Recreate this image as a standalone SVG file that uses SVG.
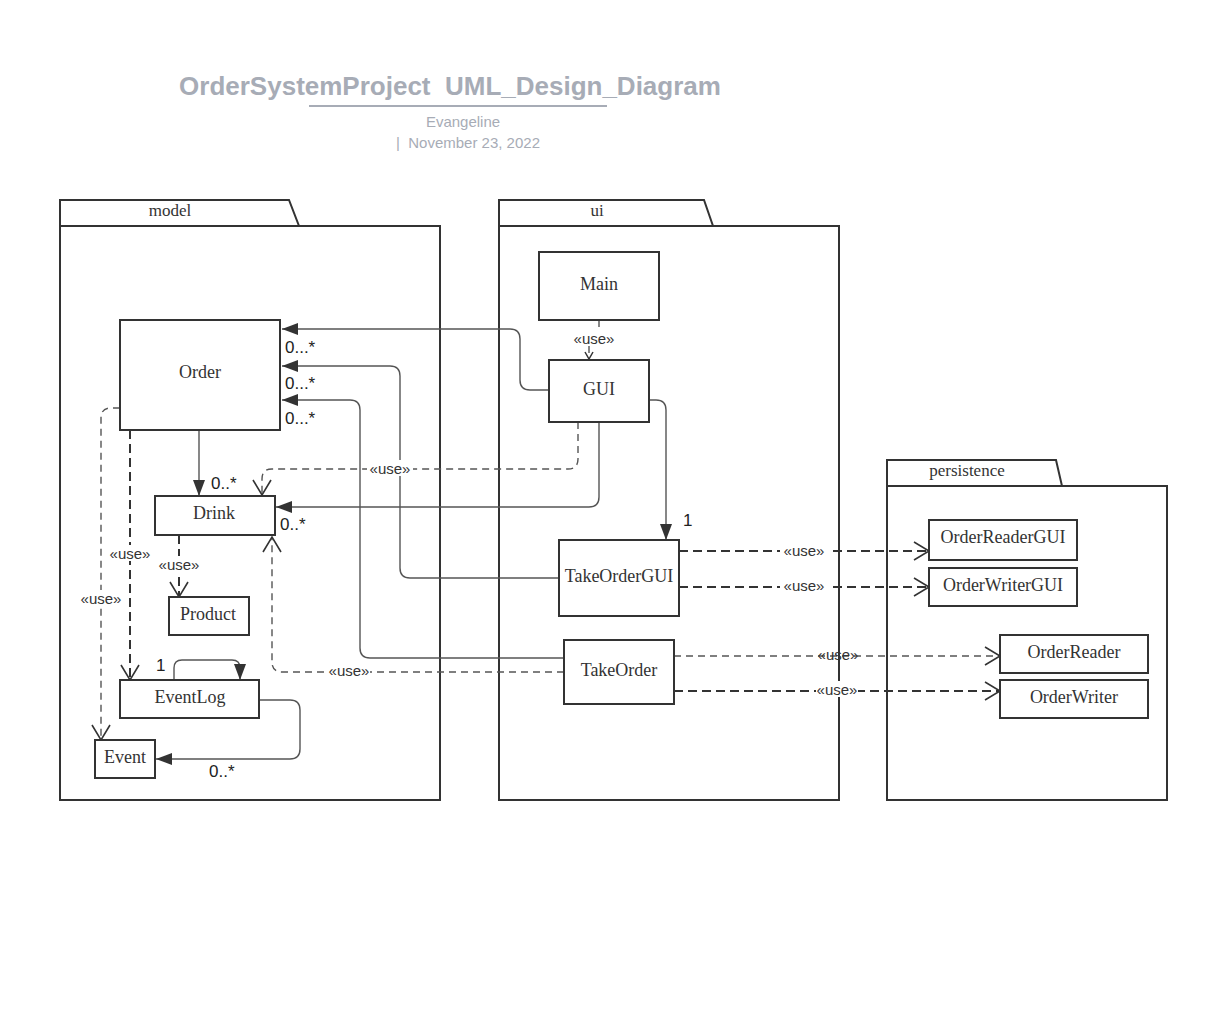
<svg xmlns="http://www.w3.org/2000/svg" width="1207" height="1031" viewBox="0 0 1207 1031">
<style>
.pkg{fill:#fff;stroke:#333;stroke-width:2}
.node{fill:#fff;stroke:#333;stroke-width:2}
.nt{font-family:"Liberation Serif",serif;font-size:18px;fill:#333;text-anchor:middle;dominant-baseline:central}
.pt{font-family:"Liberation Serif",serif;font-size:17px;fill:#333;text-anchor:middle}
.assoc{fill:none;stroke:#555;stroke-width:1.4}
.dep{fill:none;stroke:#555;stroke-width:1.4;stroke-dasharray:7,5}
.depb{fill:none;stroke:#333;stroke-width:2;stroke-dasharray:9,5}
.lbl{font-family:"Liberation Sans",Arial,sans-serif;font-size:17px;fill:#222}
.use{font-family:"Liberation Sans",Arial,sans-serif;font-size:15px;fill:#333;text-anchor:middle;dominant-baseline:central}
.ubg{fill:#fff}
</style>
<defs>
<marker id="fill" markerUnits="userSpaceOnUse" markerWidth="18" markerHeight="14" refX="16" refY="7" orient="auto">
<path d="M0,1 L16,7 L0,13 Z" fill="#333"/>
</marker>
<marker id="open" markerUnits="userSpaceOnUse" markerWidth="18" markerHeight="22" refX="16" refY="11" orient="auto">
<path d="M1,2 L16,11 L1,20" fill="none" stroke="#333" stroke-width="1.6"/>
</marker>
<marker id="opens" markerUnits="userSpaceOnUse" markerWidth="10" markerHeight="12" refX="8" refY="6" orient="auto">
<path d="M1,2 L8,6 L1,10" fill="none" stroke="#333" stroke-width="1.5"/>
</marker>
</defs>
<rect width="1207" height="1031" fill="#fff"/>
<g id="title">
<text x="450" y="95" font-family="Liberation Sans,Arial,sans-serif" font-size="26" font-weight="bold" fill="#a7acb6" text-anchor="middle">OrderSystemProject&#160; UML_Design_Diagram</text>
<line x1="309" y1="106" x2="607" y2="106" stroke="#a7acb6" stroke-width="2"/>
<text x="463" y="127" font-family="Liberation Sans,Arial,sans-serif" font-size="15" fill="#a7acb6" text-anchor="middle">Evangeline</text>
<text x="468" y="148" font-family="Liberation Sans,Arial,sans-serif" font-size="15" fill="#a7acb6" text-anchor="middle">|&#160; November 23, 2022</text>
</g>
<g id="pkg-model">
<path class="pkg" d="M60,226 V200 H289 L299,226 Z"/>
<rect class="pkg" x="60" y="226" width="380" height="574"/>
<text class="pt" x="170" y="216">model</text>
</g>
<g id="pkg-ui">
<path class="pkg" d="M499,226 V200 H704 L713,226 Z"/>
<rect class="pkg" x="499" y="226" width="340" height="574"/>
<text class="pt" x="597" y="216">ui</text>
</g>
<g id="pkg-persistence">
<path class="pkg" d="M887,486 V460 H1056 L1062,486 Z"/>
<rect class="pkg" x="887" y="486" width="280" height="314"/>
<text class="pt" x="967" y="476">persistence</text>
</g>
<g id="connectors">
<path class="assoc" d="M549,390 H530 Q520,390 520,380 V339 Q520,329 510,329 H282" marker-end="url(#fill)"/>
<path class="assoc" d="M559,578 H410 Q400,578 400,568 V376 Q400,366 390,366 H282" marker-end="url(#fill)"/>
<path class="assoc" d="M564,658 H370 Q360,658 360,648 V410 Q360,400 350,400 H282" marker-end="url(#fill)"/>
<path class="assoc" d="M199,430 V496" marker-end="url(#fill)"/>
<path class="assoc" d="M599,422 V497 Q599,507 589,507 H276" marker-end="url(#fill)"/>
<path class="assoc" d="M649,400 H656 Q666,400 666,410 V540" marker-end="url(#fill)"/>
<path class="dep" d="M578,422 V459 Q578,469 568,469 H272 Q262,469 262,479 V495" marker-end="url(#open)"/>
<path class="dep" d="M599,320 V338 H589 V359" marker-end="url(#opens)" stroke-dasharray="4,4"/>
<path class="dep" d="M564,672 H282 Q272,672 272,662 V537" marker-end="url(#open)"/>
<path class="depb" d="M130,430 V680" marker-end="url(#open)"/>
<path class="dep" d="M120,408 H111 Q101,408 101,418 V740" marker-end="url(#open)"/>
<path class="depb" d="M179,535 V597" marker-end="url(#open)"/>
<path class="assoc" d="M174,680 V668 Q174,660 182,660 H232 Q240,660 240,668 V680" marker-end="url(#fill)"/>
<path class="assoc" d="M259,700 H290 Q300,700 300,710 V749 Q300,759 290,759 H156" marker-end="url(#fill)"/>
<path class="depb" d="M679,551 H929" marker-end="url(#open)"/>
<path class="depb" d="M679,587 H929" marker-end="url(#open)"/>
<path class="dep" d="M674,656 H1000" marker-end="url(#open)"/>
<path class="depb" d="M674,691 H1000" marker-end="url(#open)"/>
<rect class="ubg" x="571" y="330" width="46" height="16"/><text class="use" x="594" y="338">«use»</text>
<rect class="ubg" x="367" y="460" width="46" height="16"/><text class="use" x="390" y="468">«use»</text>
<rect class="ubg" x="328" y="662" width="42" height="16"/><text class="use" x="349" y="670">«use»</text>
<rect class="ubg" x="107" y="545" width="46" height="16"/><text class="use" x="130" y="553">«use»</text>
<rect class="ubg" x="78" y="590" width="46" height="16"/><text class="use" x="101" y="598">«use»</text>
<rect class="ubg" x="156" y="556" width="46" height="16"/><text class="use" x="179" y="564">«use»</text>
<rect class="ubg" x="780" y="542" width="48" height="16"/><text class="use" x="804" y="550">«use»</text>
<rect class="ubg" x="780" y="577" width="48" height="16"/><text class="use" x="804" y="585">«use»</text>
<text class="use" x="838" y="654">«use»</text>
<rect class="ubg" x="816" y="681" width="42" height="16"/><text class="use" x="837" y="689">«use»</text>
<text class="lbl" x="285" y="353">0...*</text>
<text class="lbl" x="285" y="389">0...*</text>
<text class="lbl" x="285" y="424">0...*</text>
<text class="lbl" x="211" y="489">0..*</text>
<text class="lbl" x="280" y="530">0..*</text>
<text class="lbl" x="683" y="526">1</text>
<text class="lbl" x="156" y="671">1</text>
<text class="lbl" x="209" y="777">0..*</text>
</g>
<g id="node-order"><rect class="node" x="120" y="320" width="160" height="110"/><text class="nt" x="200" y="372">Order</text></g>
<g id="node-drink"><rect class="node" x="155" y="496" width="120" height="39"/><text class="nt" x="214" y="513">Drink</text></g>
<g id="node-product"><rect class="node" x="169" y="597" width="80" height="38"/><text class="nt" x="208" y="614">Product</text></g>
<g id="node-eventlog"><rect class="node" x="120" y="680" width="139" height="38"/><text class="nt" x="190" y="697">EventLog</text></g>
<g id="node-event"><rect class="node" x="95" y="740" width="60" height="38"/><text class="nt" x="125" y="757">Event</text></g>
<g id="node-main"><rect class="node" x="539" y="252" width="120" height="68"/><text class="nt" x="599" y="284">Main</text></g>
<g id="node-gui"><rect class="node" x="549" y="360" width="100" height="62"/><text class="nt" x="599" y="389">GUI</text></g>
<g id="node-takeordergui"><rect class="node" x="559" y="540" width="120" height="76"/><text class="nt" x="619" y="576">TakeOrderGUI</text></g>
<g id="node-takeorder"><rect class="node" x="564" y="640" width="110" height="64"/><text class="nt" x="619" y="670">TakeOrder</text></g>
<g id="node-orderreadergui"><rect class="node" x="929" y="520" width="148" height="40"/><text class="nt" x="1003" y="537">OrderReaderGUI</text></g>
<g id="node-orderwritergui"><rect class="node" x="929" y="568" width="148" height="38"/><text class="nt" x="1003" y="585">OrderWriterGUI</text></g>
<g id="node-orderreader"><rect class="node" x="1000" y="635" width="148" height="38"/><text class="nt" x="1074" y="652">OrderReader</text></g>
<g id="node-orderwriter"><rect class="node" x="1000" y="680" width="148" height="38"/><text class="nt" x="1074" y="697">OrderWriter</text></g>
</svg>
